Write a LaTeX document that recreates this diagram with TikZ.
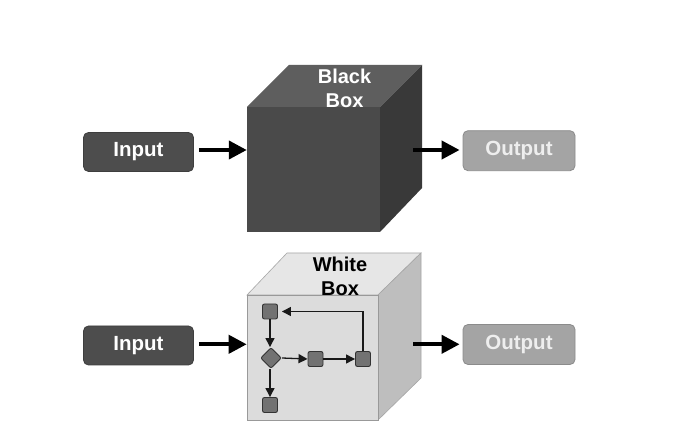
\documentclass[tikz,border=0pt]{standalone}
\usepackage{fontspec}
\setmainfont{Liberation Sans}
\usetikzlibrary{arrows.meta,shapes.geometric}
\definecolor{bfrontc}{HTML}{4A4A4A}
\definecolor{btopc}{HTML}{5E5E5E}
\definecolor{bsidec}{HTML}{393939}
\definecolor{wfrontc}{HTML}{DCDCDC}
\definecolor{wtopc}{HTML}{E6E6E6}
\definecolor{wsidec}{HTML}{BEBEBE}
\definecolor{inc}{HTML}{4D4D4D}
\definecolor{outc}{HTML}{A4A4A4}
\definecolor{outtext}{HTML}{EEEEEE}
\definecolor{smallc}{HTML}{727272}
\tikzset{
  lbl/.style={font=\fontsize{20.5}{22}\selectfont\bfseries},
  ttl/.style={align=center, font=\fontsize{20}{24}\selectfont\bfseries},
  inbox/.style={rounded corners=5pt, fill=inc, draw=inc!80!black, line width=0.8pt,
    minimum width=110pt, minimum height=39pt, text=white, lbl},
  outbox/.style={rounded corners=5pt, fill=outc, draw=outc!85!black, line width=0.8pt,
    minimum width=112pt, minimum height=40pt, text=outtext, lbl},
  bigarrow/.style={line width=4pt, -{Triangle[length=18pt,width=18pt]}},
  sq/.style={rectangle, rounded corners=2pt, fill=smallc, draw=black!80, line width=0.9pt,
    minimum size=15pt, inner sep=0pt},
  dia/.style={diamond, rounded corners=2pt, fill=smallc, draw=black!80, line width=0.9pt,
    minimum width=21pt, minimum height=21pt, inner sep=0pt},
  flow/.style={line width=1.3pt, draw=black!90, -{Triangle[length=9pt,width=9pt]}},
  face/.style={rectangle, inner sep=0pt, minimum width=133pt, minimum height=125pt}
}
\begin{document}
\begin{tikzpicture}[x=1pt,y=-1pt]
\useasboundingbox[fill=white] (0,0) rectangle (699,446);

% ---------- Black box ----------
\fill[btopc] (247,107) -- (289,65) -- (422,65) -- (380,107) -- cycle;
\fill[bsidec] (380,107) -- (422,65) -- (422,188) -- (380,232) -- cycle;
\node[face, fill=bfrontc] (bfront) at (313.5,169.5) {};
\node[ttl, text=white] (btitle) at (344.5,88.5) {Black\\Box};

% ---------- White box ----------
\fill[wtopc, draw=gray!70, line width=0.6pt] (247,295) -- (287,253) -- (421,253) -- (378,295) -- cycle;
\fill[wsidec, draw=gray!70, line width=0.6pt] (378,295) -- (421,253) -- (421,378) -- (378,420) -- cycle;
\node[face, minimum width=131pt, fill=wfrontc, draw=gray!80, line width=0.6pt] (wfront) at (312.5,357.5) {};
\node[ttl, text=black] (wtitle) at (340,276.5) {White\\Box};

% inner flow
\node[sq] (s1) at (270,311.5) {};
\node[dia] (d) at (271,358) {};
\node[sq] (s2) at (315.5,359) {};
\node[sq] (s3) at (363,359) {};
\node[sq] (s4) at (270,405) {};
\draw[flow] (s1.south) -- (d.north -| s1.south);
\draw[flow] (d.east) -- (s2.west);
\draw[flow] (s2.east) -- (s3.west);
\draw[flow] (s3.north) -- (s3.north |- s1.east) -- ([xshift=4pt]s1.east);
\draw[flow] (d.south -| s4.north) -- (s4.north);

% ---------- Inputs / outputs ----------
\node[inbox] (in1) at (138.5,152) {Input};
\node[outbox] (out1) at (519,150.7) {Output};
\node[inbox] (in2) at (138.5,345.5) {Input};
\node[outbox] (out2) at (519,344.5) {Output};

\coordinate (bo) at (413,150);
\coordinate (wo) at (413,344.3);

\draw[bigarrow, shorten <=5pt] ([yshift=2pt]in1.east) -- ([yshift=2pt]in1.east -| bfront.west);
\draw[bigarrow, shorten >=3pt] (bo) -- (bo -| out1.west);
\draw[bigarrow, shorten <=5pt] ([yshift=1.2pt]in2.east) -- ([yshift=1.2pt]in2.east -| wfront.west);
\draw[bigarrow, shorten >=3pt] (wo) -- (wo -| out2.west);
\end{tikzpicture}
\end{document}
